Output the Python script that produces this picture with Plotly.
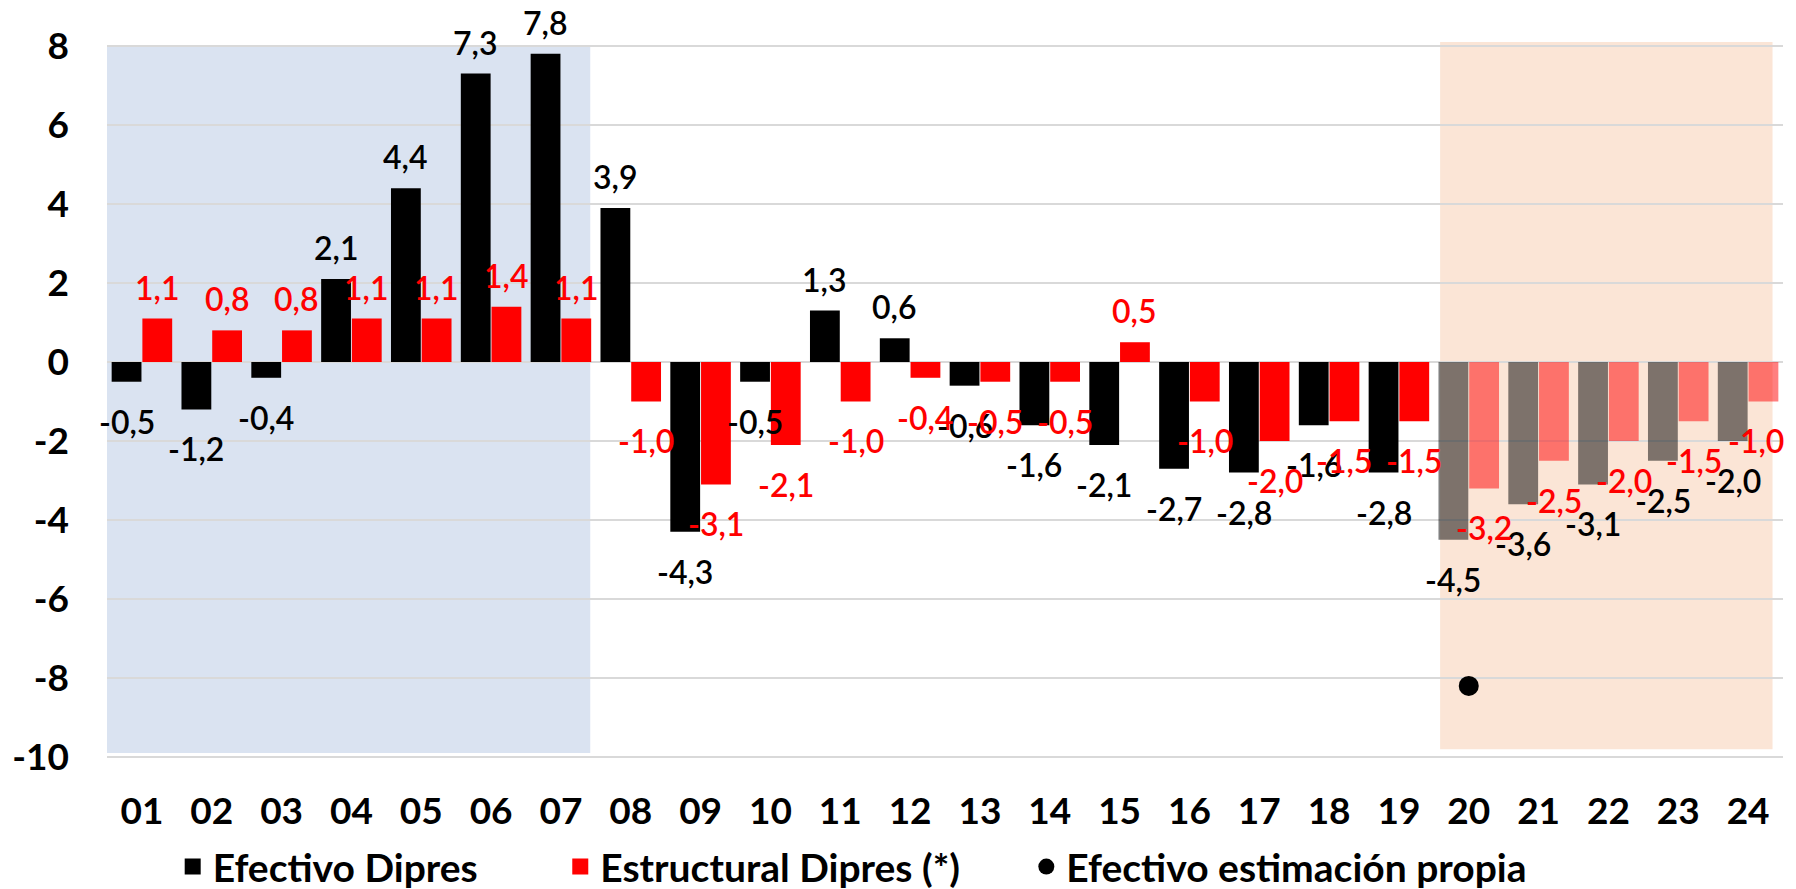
import plotly.graph_objects as go

categories = ["01", "02", "03", "04", "05", "06", "07", "08", "09", "10", "11", "12",
              "13", "14", "15", "16", "17", "18", "19", "20", "21", "22", "23", "24"]
efectivo_dipres = [-0.5, -1.2, -0.4, 2.1, 4.4, 7.3, 7.8, 3.9, -4.3, -0.5, 1.3, 0.6,
                   -0.6, -1.6, -2.1, -2.7, -2.8, -1.6, -2.8, -4.5, -3.6, -3.1, -2.5, -2.0]
estructural_dipres = [1.1, 0.8, 0.8, 1.1, 1.1, 1.4, 1.1, -1.0, -3.1, -2.1, -1.0, -0.4,
                      -0.5, -0.5, 0.5, -1.0, -2.0, -1.5, -1.5, -3.2, -2.5, -2.0, -1.5, -1.0]
estimacion_cat = ["20"]
estimacion_val = [-8.2]
y_ticks = [8, 6, 4, 2, 0, -2, -4, -6, -8, -10]
y_ticktext = ["8", "6", "4", "2", "0", "-2", "-4", "-6", "-8", "-10"]
proyeccion_desde = "20"
historico_hasta = "07"
serie_nombres = ["Efectivo Dipres", "Estructural Dipres (*)", "Efectivo estimación propia"]

FONT = "Lato"
n = len(categories)
p0 = categories.index(proyeccion_desde)
h1 = categories.index(historico_hasta)

col_ef = ["#000000" if i < p0 else "rgba(0,0,0,0.5)" for i in range(n)]
col_es = ["#ff0000" if i < p0 else "rgba(255,0,0,0.5)" for i in range(n)]

BARGAP = 0.12
fig = go.Figure()
fig.add_trace(go.Bar(x=categories, y=efectivo_dipres, name=serie_nombres[0], showlegend=False,
                     marker=dict(color=col_ef, line=dict(width=0))))
fig.add_trace(go.Bar(x=categories, y=estructural_dipres, name=serie_nombres[1], showlegend=False,
                     marker=dict(color=col_es, line=dict(width=0))))
fig.add_trace(go.Scatter(x=estimacion_cat, y=estimacion_val, mode="markers",
                         name=serie_nombres[2], showlegend=False,
                         marker=dict(color="black", size=20)))

# legend keys (legend-only entries, no data points)
legend_keys = [("legend", "#000000", "square"), ("legend2", "#ff0000", "square"),
               ("legend3", "#000000", "circle")]
for name, (lg, c, sym) in zip(serie_nombres, legend_keys):
    fig.add_trace(go.Scatter(x=[None], y=[None], mode="markers", name=name, legend=lg,
                             showlegend=True,
                             marker=dict(color=c, symbol=sym, size=20)))

HALF = (1 - BARGAP) / 2
def fmt(v):
    return f"{v:.1f}".replace(".", ",")

annotations = []
for series, color, off in ((efectivo_dipres, "#000000", -HALF / 2),
                           (estructural_dipres, "#ff0000", HALF / 2)):
    for i, v in enumerate(series):
        pos = v >= 0
        x = i + off
        xanchor = "center"
        xshift = 0
        if i == n - 1 and off > 0:
            # keep the last label inside the chart area (as the original does)
            x = n - 0.52
            xanchor = "right"
            xshift = 4
        annotations.append(dict(
            x=x, y=v, xref="x", yref="y", text=fmt(v), showarrow=False,
            yanchor="bottom" if pos else "top", xanchor=xanchor, xshift=xshift,
            yshift=10 if pos else -18,
            font=dict(family=FONT, size=32, color=color, weight=600)))

shapes = [
    dict(type="rect", xref="x", yref="y", x0=-0.55, x1=h1 + HALF - 0.02, y0=-9.9, y1=8,
         fillcolor="#dae3f1", line=dict(width=0), layer="below"),
    dict(type="rect", xref="x", yref="y", x0=p0 - HALF + 0.03, x1=n - 1 + 0.35, y0=-9.8, y1=8.1,
         fillcolor="#fbe5d6", line=dict(width=0), layer="below"),
]

lfont = dict(family=FONT, size=39, color="black", weight="bold")
def lg(x):
    return dict(orientation="h", xref="container", yref="container",
                x=x, xanchor="left", y=0.034, yanchor="middle",
                font=lfont, bgcolor="rgba(0,0,0,0)", itemwidth=30, borderwidth=0)

fig.update_layout(
    width=1796, height=889,
    margin=dict(l=99, r=21, t=32, b=136),
    paper_bgcolor="white", plot_bgcolor="white",
    barmode="group", bargap=BARGAP, bargroupgap=0.03,
    annotations=annotations, shapes=shapes,
    showlegend=True,
    legend=lg(0.0917), legend2=lg(0.3075), legend3=lg(0.567),
    font=dict(family=FONT),
)
fig.update_xaxes(type="category", range=[-0.5, n - 0.5], autorange=False,
                 showgrid=False, zeroline=False, showline=False,
                 automargin=False,
                 tickfont=dict(family=FONT, size=37, color="black", weight="bold"),
                 ticks="", ticklabelstandoff=25)
fig.update_yaxes(range=[-10.1, 8.15], tickvals=y_ticks, ticktext=y_ticktext,
                 showgrid=True, gridcolor="#d9d9d9", gridwidth=1.5, zeroline=False,
                 showline=False, ticks="", automargin=False,
                 tickfont=dict(family=FONT, size=37, color="black", weight="bold"),
                 ticklabelstandoff=37)
fig.update_traces(cliponaxis=False, selector=dict(type="bar"))
fig.update_traces(cliponaxis=False, selector=dict(type="scatter"))

fig.write_html("out.html")
